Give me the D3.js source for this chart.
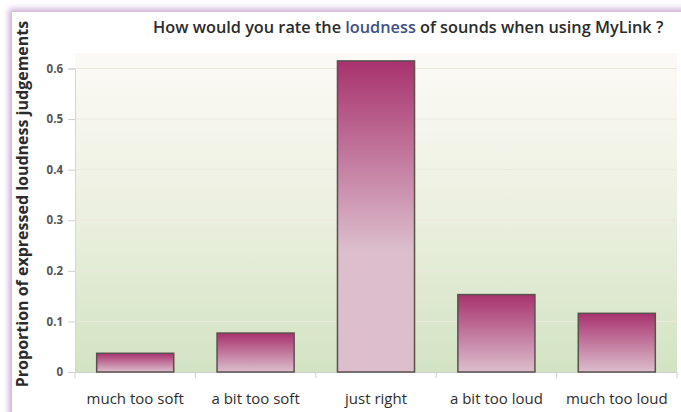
<!DOCTYPE html>
<html>
<head>
<meta charset="utf-8">
<script src="https://cdn.jsdelivr.net/npm/d3@7"></script>
<style>
  body { margin: 0; background: #fff; }
  svg { display: block; }
  .tick text { font-family: "Open Sans", sans-serif; }
</style>
</head>
<body>
<svg id="chart" width="681" height="412"></svg>
<script>
// data
var categories = ["much too soft", "a bit too soft", "just right", "a bit too loud", "much too loud"];
var proportions = [0.037, 0.077, 0.615, 0.153, 0.116];
var yTicks = [0, 0.1, 0.2, 0.3, 0.4, 0.5, 0.6];

var svg = d3.select("#chart");
var defs = svg.append("defs");

// plot box (names avoid window.top)
var plotLeft = 75, plotRight = 677, plotTop = 53, plotBottom = 372;

// soft lavender shadow along top and left edge
var shadow = defs.append("filter").attr("id", "edge")
    .attr("x", "-10%").attr("y", "-10%").attr("width", "120%").attr("height", "120%");
shadow.append("feDropShadow")
    .attr("dx", -3).attr("dy", -3).attr("stdDeviation", 3)
    .attr("flood-color", "#c9a8d4").attr("flood-opacity", 1);

svg.append("rect")
    .attr("x", 12).attr("y", 12)
    .attr("width", 720).attr("height", 460)
    .attr("fill", "#fff")
    .attr("filter", "url(#edge)");

// plot background gradient
var bg = defs.append("linearGradient").attr("id", "bg")
    .attr("x1", 0).attr("y1", 0).attr("x2", 0).attr("y2", 1);
bg.append("stop").attr("offset", "0%").attr("stop-color", "#fcfaf6");
bg.append("stop").attr("offset", "45%").attr("stop-color", "#eef1e2");
bg.append("stop").attr("offset", "100%").attr("stop-color", "#d2e3c3");

var x = d3.scaleBand()
    .domain(categories)
    .range([plotLeft, plotRight])
    .paddingInner(0.36)
    .paddingOuter(0.18);

var y = d3.scaleLinear()
    .domain([0, 0.6])
    .range([plotBottom, 68.5]);

svg.append("rect")
    .attr("x", plotLeft).attr("y", plotTop)
    .attr("width", plotRight - plotLeft).attr("height", plotBottom - plotTop)
    .attr("fill", "url(#bg)");

// faint gridlines
svg.append("g")
    .selectAll("line")
    .data(yTicks.slice(1))
    .enter()
    .append("line")
    .attr("x1", plotLeft).attr("x2", plotRight)
    .attr("y1", function (d) { return y(d); })
    .attr("y2", function (d) { return y(d); })
    .attr("stroke", "#ebe8de")
    .attr("stroke-width", 1);

// y axis
var yAxis = svg.append("g")
    .attr("transform", "translate(" + plotLeft + ",0)")
    .call(d3.axisLeft(y)
        .tickValues(yTicks)
        .tickSize(7)
        .tickPadding(5)
        .tickFormat(function (d) { return d === 0 ? "0" : d3.format(".1f")(d); }));
yAxis.select(".domain").attr("stroke", "#d6d6d6");
yAxis.selectAll(".tick line").attr("stroke", "#d0d0d0");
yAxis.selectAll(".tick text")
    .attr("fill", "#555")
    .attr("font-size", 11.5)
    .attr("font-weight", 700);

// x axis
var xAxis = svg.append("g")
    .attr("transform", "translate(0," + plotBottom + ")")
    .call(d3.axisBottom(x).tickSize(0).tickPadding(21));
xAxis.select(".domain").attr("stroke", "#d0d0d0");
xAxis.selectAll(".tick text")
    .attr("fill", "#2e2e2e")
    .attr("font-size", 15)
    .attr("font-weight", 500);

// tick marks between categories
var bounds = d3.range(categories.length + 1).map(function (i) {
    return plotLeft + i * (plotRight - plotLeft) / categories.length;
});
svg.append("g")
    .selectAll("line")
    .data(bounds)
    .enter()
    .append("line")
    .attr("x1", function (d) { return d; })
    .attr("x2", function (d) { return d; })
    .attr("y1", plotBottom)
    .attr("y2", plotBottom + 6)
    .attr("stroke", "#d0d0d0");

// bar gradients: dark magenta at the top fading to pale pink
proportions.forEach(function (v, i) {
    var h = y(0) - y(v);
    var g = defs.append("linearGradient").attr("id", "bar" + i)
        .attr("x1", 0).attr("y1", 0).attr("x2", 0).attr("y2", 1);
    g.append("stop").attr("offset", "0%").attr("stop-color", "#a8326e");
    g.append("stop").attr("offset", Math.min(1, 190 / h)).attr("stop-color", "#dcbecc");
    g.append("stop").attr("offset", "100%").attr("stop-color", "#dcbecc");
});

svg.append("g")
    .selectAll("rect")
    .data(proportions)
    .enter()
    .append("rect")
    .attr("x", function (d, i) { return x(categories[i]); })
    .attr("y", function (d) { return y(d); })
    .attr("width", x.bandwidth())
    .attr("height", function (d) { return y(0) - y(d); })
    .attr("fill", function (d, i) { return "url(#bar" + i + ")"; })
    .attr("stroke", "#5a5050")
    .attr("stroke-width", 1.5);

// title
var title = svg.append("text")
    .attr("x", 153).attr("y", 33)
    .attr("font-family", "Open Sans, sans-serif")
    .attr("font-size", 16.3)
    .attr("font-weight", 600)
    .attr("fill", "#2b2b2b");
title.append("tspan").text("How would you rate the ");
title.append("tspan").attr("fill", "#3f4f86").text("loudness");
title.append("tspan").text(" of sounds when using MyLink ?");

// y axis label
svg.append("text")
    .attr("transform", "translate(28,204) rotate(-90)")
    .attr("text-anchor", "middle")
    .attr("font-family", "Open Sans, sans-serif")
    .attr("font-size", 16)
    .attr("font-weight", 700)
    .attr("fill", "#2b2b2b")
    .text("Proportion of expressed loudness judgements");
</script>
</body>
</html>
